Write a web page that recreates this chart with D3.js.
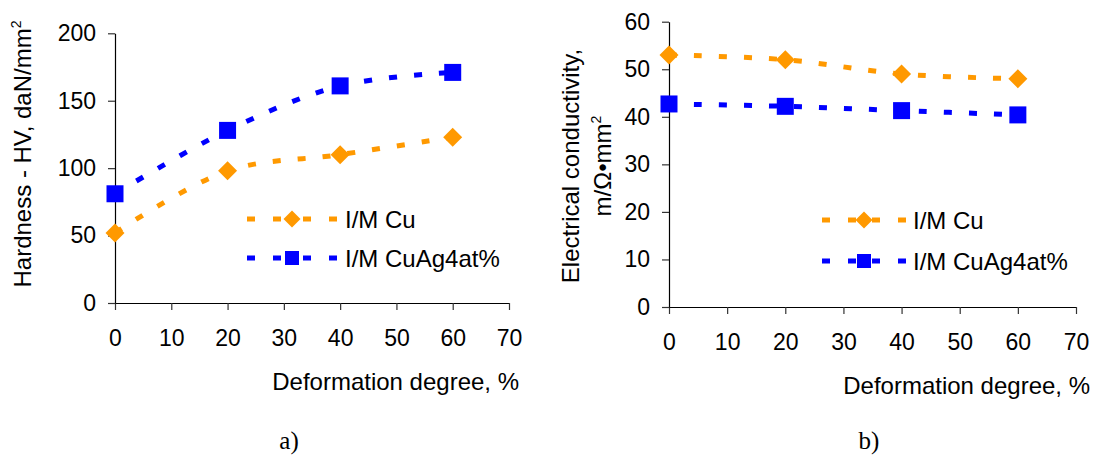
<!DOCTYPE html>
<html>
<head>
<meta charset="utf-8">
<script src="https://cdn.jsdelivr.net/npm/d3@7"></script>
<style>
  html, body { margin: 0; padding: 0; background: #fff; }
  svg { display: block; }
  text { font-family: "Liberation Sans", Arial, sans-serif; fill: #000; }
</style>
</head>
<body>
<svg id="chart" width="1093" height="456"></svg>
<script>
// ---- data ----
const degree = [0, 20, 40, 60];
const xTickValues = [0, 10, 20, 30, 40, 50, 60, 70];
const hardnessCu = [52, 98, 110, 123];
const hardnessCuAg = [81, 128, 161, 171];
const hardnessTicks = [0, 50, 100, 150, 200];
const conductivityCu = [53, 52, 49, 48];
const conductivityCuAg = [42.7, 42.2, 41.3, 40.4];
const conductivityTicks = [0, 10, 20, 30, 40, 50, 60];
const seriesNames = ["I/M Cu", "I/M CuAg4at%"];
const xTitle = "Deformation degree, %";
const panelLabels = ["a)", "b)"];

// ---- styles ----
const ORANGE = "#FF9900", BLUE = "#0000FF";
const FONT = 24;

const svg = d3.select("#chart");

function diamondPath(w) {
  const h = w / 2;
  return `M0,${-h}L${h},0L0,${h}L${-h},0Z`;
}
function squarePath(w) {
  const h = w / 2;
  return `M${-h},${-h}H${h}V${h}H${-h}Z`;
}

function drawPanel(cfg) {
  const g = svg.append("g");
  const x = d3.scaleLinear().domain([0, 70]).range([cfg.x0, cfg.x1]);
  const y = d3.scaleLinear().domain(cfg.yDomain).range([cfg.yBottom, cfg.yTop]);

  const xAxis = d3.axisBottom(x).tickValues(xTickValues).tickSizeInner(7).tickSizeOuter(0).tickPadding(20);
  const yAxis = d3.axisLeft(y).tickValues(cfg.yTicks).tickSizeInner(7).tickSizeOuter(0).tickPadding(12);

  const gx = g.append("g").attr("transform", `translate(0,${cfg.yBottom})`).call(xAxis);
  const gy = g.append("g").attr("transform", `translate(${cfg.x0},0)`).call(yAxis);
  [gx, gy].forEach(a => {
    a.selectAll("path.domain").attr("stroke", "#000").attr("stroke-width", 1.2);
    a.selectAll(".tick line").attr("stroke", "#333").attr("stroke-width", 1.2);
    a.selectAll(".tick text").attr("font-size", 23).attr("font-family", "Liberation Sans, Arial, sans-serif").attr("fill", "#000");
  });

  const line = d3.line()
    .x((d, i) => x(degree[i]))
    .y(d => y(d))
    .curve(d3.curveCatmullRom.alpha(0.5));

  cfg.series.forEach(s => {
    g.append("path")
      .datum(s.values)
      .attr("d", line)
      .attr("fill", "none")
      .attr("stroke", s.color)
      .attr("stroke-width", 5)
      .attr("stroke-dasharray", "8,17");
  });
  cfg.series.forEach(s => {
    g.selectAll(null).data(s.values).enter().append("path")
      .attr("transform", (d, i) => `translate(${x(degree[i])},${y(d)})`)
      .attr("d", s.shape === "diamond" ? diamondPath(19) : squarePath(17))
      .attr("fill", s.color);
  });

  cfg.series.forEach((s, k) => {
    const ly = cfg.legY[k];
    const mid = (cfg.legX0 + cfg.legX1) / 2;
    g.append("line").attr("x1", cfg.legX0).attr("x2", mid).attr("y1", ly).attr("y2", ly)
      .attr("stroke", s.color).attr("stroke-width", 5).attr("stroke-dasharray", "8,18");
    g.append("line").attr("x1", cfg.legX1).attr("x2", mid).attr("y1", ly).attr("y2", ly)
      .attr("stroke", s.color).attr("stroke-width", 5).attr("stroke-dasharray", "8,18");
    g.append("path").attr("transform", `translate(${mid},${ly})`)
      .attr("d", s.shape === "diamond" ? diamondPath(17) : squarePath(14))
      .attr("fill", s.color);
    g.append("text").attr("x", cfg.legTextX).attr("y", ly).attr("dy", "0.36em")
      .attr("font-size", FONT).text(s.name);
  });

  g.append("text").attr("x", cfg.xTitleRight).attr("y", cfg.xTitleY)
    .attr("text-anchor", "end").attr("font-size", FONT).text(xTitle);

  g.append("text").attr("x", cfg.labelX).attr("y", 449)
    .attr("text-anchor", "middle").attr("font-size", 25)
    .style("font-family", "Liberation Serif, Times New Roman, serif")
    .text(cfg.label);

  return g;
}

drawPanel({
  x0: 115, x1: 509, yBottom: 303, yTop: 33.3, yDomain: [0, 200], yTicks: hardnessTicks,
  series: [
    { name: seriesNames[0], values: hardnessCu, color: ORANGE, shape: "diamond" },
    { name: seriesNames[1], values: hardnessCuAg, color: BLUE, shape: "square" }
  ],
  legX0: 247, legX1: 337, legY: [219, 258], legTextX: 345,
  xTitleRight: 519, xTitleY: 390, labelX: 289, label: panelLabels[0]
});

drawPanel({
  x0: 669, x1: 1076, yBottom: 307, yTop: 21.7, yDomain: [0, 60], yTicks: conductivityTicks,
  series: [
    { name: seriesNames[0], values: conductivityCu, color: ORANGE, shape: "diamond" },
    { name: seriesNames[1], values: conductivityCuAg, color: BLUE, shape: "square" }
  ],
  legX0: 822, legX1: 906, legY: [220, 261], legTextX: 913,
  xTitleRight: 1090, xTitleY: 394, labelX: 869, label: panelLabels[1]
});

const lt = svg.append("text")
  .attr("transform", "translate(31,154) rotate(-90)")
  .attr("text-anchor", "middle").attr("font-size", FONT);
lt.append("tspan").text("Hardness - HV, daN/mm");
lt.append("tspan").attr("font-size", 14).attr("dy", "-0.7em").text("2");

svg.append("text")
  .attr("transform", "translate(579,166) rotate(-90)")
  .attr("text-anchor", "middle").attr("font-size", FONT)
  .text("Electrical conductivity,");
const rt2 = svg.append("text")
  .attr("transform", "translate(611,166) rotate(-90)")
  .attr("text-anchor", "middle").attr("font-size", FONT);
rt2.append("tspan").text("m/Ω•mm");
rt2.append("tspan").attr("font-size", 14).attr("dy", "-0.7em").text("2");
</script>
</body>
</html>
